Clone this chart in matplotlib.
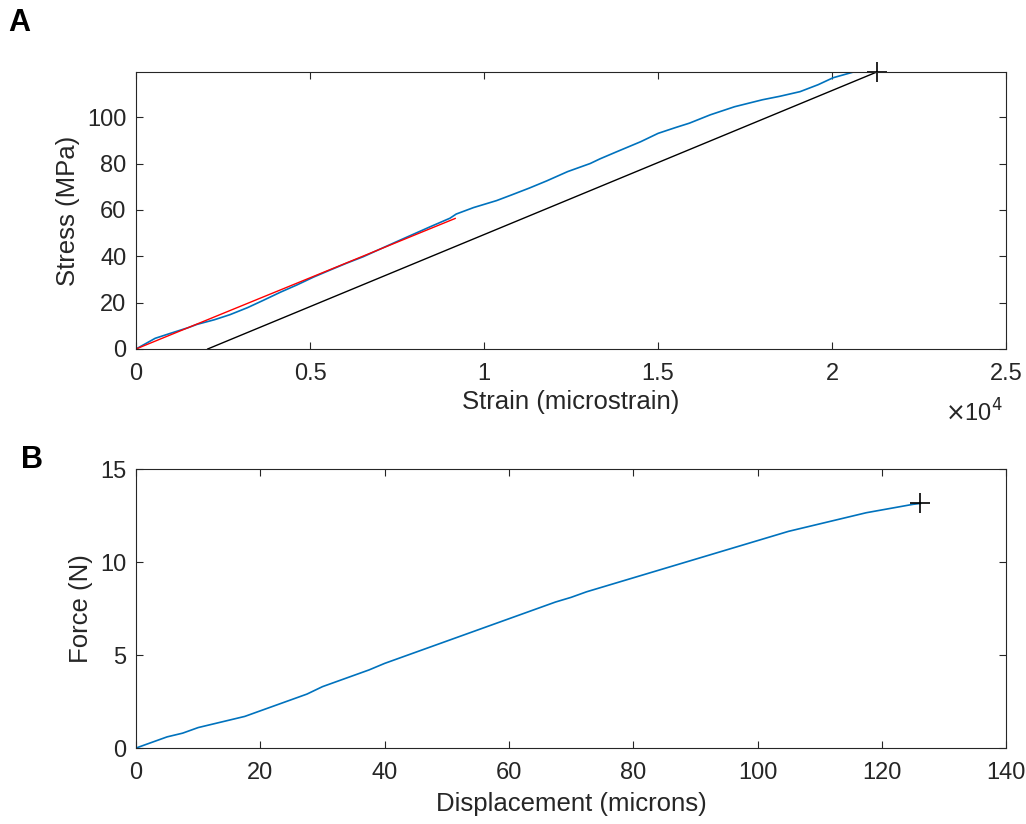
import numpy as np
import matplotlib
matplotlib.use("Agg")
import matplotlib.pyplot as plt
from matplotlib.ticker import FuncFormatter

# panel A: stress-strain curve (strain in microstrain, stress in MPa)
strain = [0, 300, 550, 1000, 1500, 1750, 2250, 2700, 3200, 3660, 4150, 4620,
          5100, 5570, 6050, 6530, 7000, 7490, 7970, 8450, 9020, 9200, 9700,
          10360, 10800, 11300, 11800, 12400, 13050, 13330, 13800, 14500, 15000,
          15500, 15900, 16500, 17200, 18000, 18500, 19080, 19600, 20030, 20600,
          21290]
stress = [0, 2.5, 4.6, 6.8, 9.2, 10.6, 12.6, 14.8, 17.8, 21.0, 24.5, 27.6,
          31.0, 34.0, 37.0, 39.8, 43.0, 46.3, 49.5, 52.7, 56.4, 58.2, 61.0,
          64.0, 66.5, 69.4, 72.5, 76.5, 80.0, 82.0, 85.0, 89.4, 93.0,
          95.5, 97.4, 101.0, 104.5, 107.5, 109.0, 111.0, 114.0, 117.0, 119.4,
          119.5]

# elastic fit (red) and offset line (black)
fit_strain = [0, 9170]
fit_stress = [0, 56.3]
offset_strain = [2060, 21290]
offset_stress = [0, 119.5]
peak_strain = 21290
peak_stress = 119.5

# panel B: force-displacement curve
disp = [0, 2.5, 5, 7.5, 10, 12.5, 15, 17.5, 20, 22.5, 25, 27.5, 30, 32.5, 35,
        37.5, 40, 42.5, 45, 47.5, 50, 52.5, 55, 57.5, 60, 62.5, 65, 67.5, 70,
        72.5, 75, 77.5, 80, 82.5, 85, 87.5, 90, 92.5, 95, 97.5, 100, 102.5,
        105, 107.5, 110, 112.5, 115, 117.5, 120, 122.5, 125, 126.2]
force = [0, 0.3, 0.6, 0.8, 1.1, 1.3, 1.5, 1.7, 2.0, 2.3, 2.6, 2.9, 3.3, 3.6,
         3.9, 4.2, 4.55, 4.85, 5.15, 5.45, 5.75, 6.05, 6.35, 6.65, 6.95, 7.25,
         7.55, 7.85, 8.1, 8.4, 8.65, 8.9, 9.15, 9.4, 9.65, 9.9, 10.15, 10.4,
         10.65, 10.9, 11.15, 11.4, 11.65, 11.85, 12.05, 12.25, 12.45, 12.65,
         12.8, 12.95, 13.1, 13.15]
peak_disp = 126.2
peak_force = 13.15

blue = "#0072BD"
grey = "#262626"

plt.rcParams["font.family"] = ["Liberation Sans", "DejaVu Sans"]

fig = plt.figure(figsize=(10.26, 8.24), dpi=100)
ax1 = fig.add_axes([0.1326, 0.5765, 0.848, 0.3362])
ax2 = fig.add_axes([0.1326, 0.0922, 0.848, 0.3386])


def style(ax):
    for s in ax.spines.values():
        s.set_color(grey)
        s.set_linewidth(0.8)
    ax.tick_params(direction="in", top=True, right=True, length=5,
                   width=0.8, color=grey, labelcolor=grey, labelsize=17)
    ax.tick_params(axis="x", pad=10)
    ax.tick_params(axis="y", pad=7)


ax1.plot(strain, stress, color=blue, lw=1.2)
ax1.plot(fit_strain, fit_stress, color="red", lw=1.0)
ax1.plot(offset_strain, offset_stress, color="black", lw=1.0)
ax1.plot(peak_strain, peak_stress, "+", color="black", ms=14, mew=1.2, clip_on=False)
ax1.set_xlim(0, 25000)
ax1.set_ylim(0, 119.5)
ax1.set_xticks(np.arange(0, 25001, 5000))
ax1.set_yticks(np.arange(0, 101, 20))
ax1.xaxis.set_major_formatter(FuncFormatter(lambda v, p: f"{v / 1e4:g}"))
ax1.set_xlabel("Strain (microstrain)", fontsize=18.5, color=grey, labelpad=4)
ax1.set_ylabel("Stress (MPa)", fontsize=18.5, color=grey, labelpad=5)
ax1.text(0.996, -0.231, r"$\times$10$^4$", transform=ax1.transAxes, ha="right",
         va="center", fontsize=17, color=grey)
style(ax1)

ax2.plot(disp, force, color=blue, lw=1.2)
ax2.plot(peak_disp, peak_force, "+", color="black", ms=14, mew=1.2)
ax2.set_xlim(0, 140)
ax2.set_ylim(0, 15)
ax2.set_xticks(np.arange(0, 141, 20))
ax2.set_yticks([0, 5, 10, 15])
ax2.set_xlabel("Displacement (microns)", fontsize=18.5, color=grey, labelpad=6)
ax2.set_ylabel("Force (N)", fontsize=18.5, color=grey, labelpad=5)
style(ax2)

fig.text(0.008, 0.99, "A", fontsize=22, fontweight="bold", va="top")
fig.text(0.02, 0.46, "B", fontsize=22, fontweight="bold", va="top")

fig.savefig("out.png", dpi=100, facecolor="white")
